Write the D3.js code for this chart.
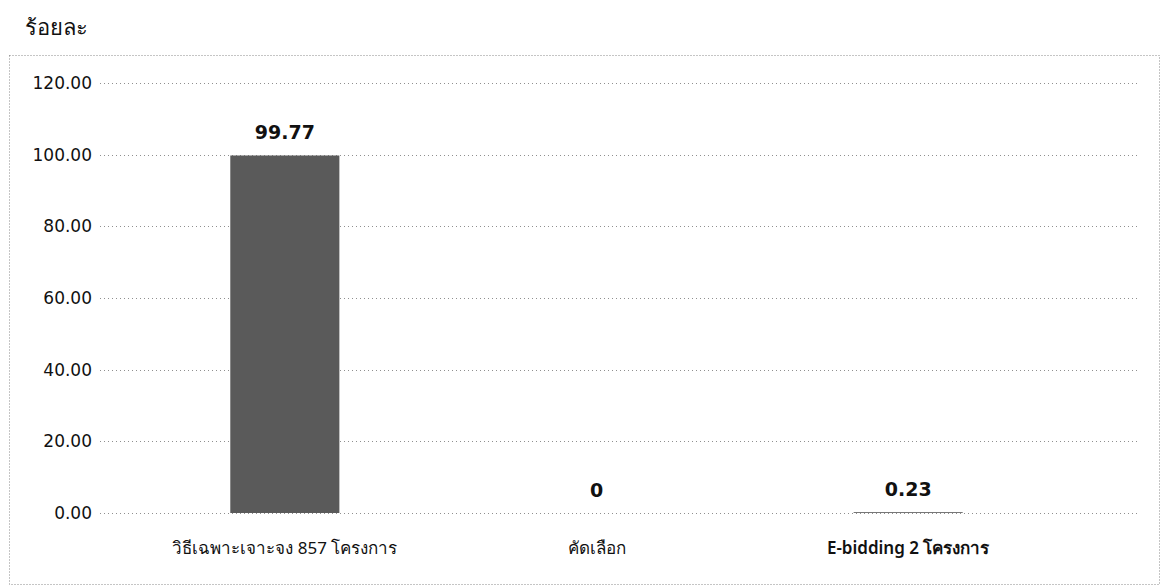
<!DOCTYPE html>
<html>
<head>
<meta charset="utf-8">
<script src="https://cdn.jsdelivr.net/npm/d3@7/dist/d3.min.js"></script>
<style>
  html, body { margin: 0; padding: 0; background: #fff; }
  svg { display: block; }
  text { font-family: "DejaVu Sans", "Noto Sans", sans-serif; fill: #111; }
</style>
</head>
<body>
<svg id="chart" width="1162" height="587"></svg>
<script>
const categories = ["วิธีเฉพาะเจาะจง 857 โครงการ", "คัดเลือก", "E-bidding 2 โครงการ"];
const values = [99.77, 0, 0.23];
const valueLabels = ["99.77", "0", "0.23"];
const yTicks = [0, 20, 40, 60, 80, 100, 120];
const yTitle = "ร้อยละ";

const svg = d3.select("#chart");

// outer dotted frame
svg.append("rect")
  .attr("x", 9.5).attr("y", 55.5)
  .attr("width", 1150).attr("height", 529)
  .attr("fill", "none")
  .attr("stroke", "#8a8a8a")
  .attr("stroke-width", 1)
  .attr("stroke-dasharray", "1,2");

const x = d3.scaleBand()
  .domain(categories)
  .range([129, 1064])
  .paddingInner(0.65)
  .paddingOuter(0.325);

const y = d3.scaleLinear()
  .domain([0, 120])
  .range([513, 83]);

// gridlines
svg.append("g")
  .selectAll("line")
  .data(yTicks)
  .join("line")
  .attr("x1", 100).attr("x2", 1138)
  .attr("y1", d => Math.round(y(d)) + 0.5)
  .attr("y2", d => Math.round(y(d)) + 0.5)
  .attr("stroke", "#8f8f8f")
  .attr("stroke-width", 1)
  .attr("stroke-dasharray", "1,3");

// y axis labels
const yAxis = d3.axisLeft(y)
  .tickValues(yTicks)
  .tickFormat(d3.format(".2f"))
  .tickSize(0)
  .tickPadding(0);
const gy = svg.append("g")
  .attr("transform", "translate(92,0)")
  .call(yAxis);
gy.select(".domain").remove();
gy.selectAll("text")
  .attr("font-size", 17)
  .attr("font-weight", 400)
  .style("font-family", "'DejaVu Sans', sans-serif")
  .attr("fill", "#111");

// y title
svg.append("text")
  .attr("x", 25).attr("y", 35)
  .attr("font-size", 22)
  .style("font-family", "'Noto Sans', 'DejaVu Sans', sans-serif")
  .text(yTitle);

// bars
svg.append("g")
  .selectAll("rect")
  .data(values)
  .join("rect")
  .attr("x", (d, i) => x(categories[i]))
  .attr("width", x.bandwidth())
  .attr("y", d => y(d))
  .attr("height", d => y(0) - y(d))
  .attr("fill", "#5a5a5a");

// value labels
svg.append("g")
  .selectAll("text")
  .data(values)
  .join("text")
  .attr("x", (d, i) => x(categories[i]) + x.bandwidth() / 2)
  .attr("y", d => y(d) - 16)
  .attr("text-anchor", "middle")
  .attr("font-size", 19)
  .attr("font-weight", 700)
  .text((d, i) => valueLabels[i]);

// x category labels
const xAxis = d3.axisBottom(x).tickSize(0).tickPadding(0);
const gx = svg.append("g")
  .attr("transform", "translate(0,542)")
  .call(xAxis);
gx.select(".domain").remove();
gx.selectAll("text")
  .attr("font-size", 17)
  .attr("font-weight", (d, i) => i === 2 ? 600 : 400)
  .style("font-family", "'Noto Sans', 'DejaVu Sans', sans-serif")
  .attr("fill", "#111");
</script>
</body>
</html>
